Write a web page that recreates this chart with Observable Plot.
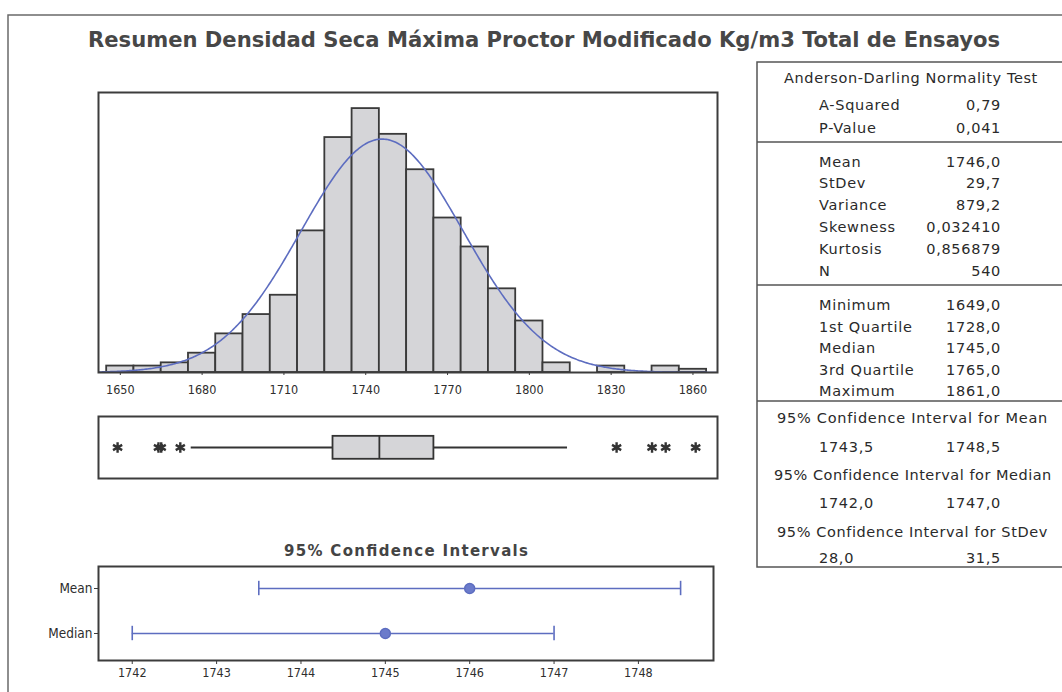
<!DOCTYPE html>
<html><head><meta charset="utf-8">
<script src="https://cdn.jsdelivr.net/npm/d3@7"></script>
<script src="https://cdn.jsdelivr.net/npm/@observablehq/plot@0.6"></script>
<style>
body{margin:0;background:#fff;}
#root{position:relative;width:1062px;height:692px;overflow:hidden;background:#fff;}
.abs{position:absolute;}
</style></head><body><div id="root"></div>
<script>
// ---- data ----
const titleText = "Resumen Densidad Seca Máxima Proctor Modificado Kg/m3 Total de Ensayos";
const binCenters = [1650,1660,1670,1680,1690,1700,1710,1720,1730,1740,1750,1760,1770,1780,1790,1800,1810,1820,1830,1840,1850,1860];
const binCounts  = [2,2,3,6,12,18,24,44,73,82,74,63,48,39,26,16,3,0,2,0,2,1];
const binWidth = 10;
const fitMean = 1746.0, fitStDev = 29.7, fitN = 540;
const histTicks = [1650,1680,1710,1740,1770,1800,1830,1860];
const boxQuartiles = [1728, 1745, 1765];
const boxWhiskers = [1676, 1814];
const boxOutliers = [1649,1664,1665,1672,1832,1845,1850,1861];
const ciLabels = ["Mean","Median"];
const ciLower = [1743.5, 1742.0];
const ciUpper = [1748.5, 1747.0];
const ciPoint = [1746.0, 1745.0];
const ciTicks = [1742,1743,1744,1745,1746,1747,1748];
const adHeader = "Anderson-Darling Normality Test";
const adLabels = ["A-Squared","P-Value"];
const adValues = ["0,79","0,041"];
const momLabels = ["Mean","StDev","Variance","Skewness","Kurtosis","N"];
const momValues = ["1746,0","29,7","879,2","0,032410","0,856879","540"];
const qLabels = ["Minimum","1st Quartile","Median","3rd Quartile","Maximum"];
const qValues = ["1649,0","1728,0","1745,0","1765,0","1861,0"];
const ciHeaders = ["95% Confidence Interval for Mean","95% Confidence Interval for Median","95% Confidence Interval for StDev"];
const ciTableLo = ["1743,5","1742,0","28,0"];
const ciTableHi = ["1748,5","1747,0","31,5"];
const ciPanelTitle = "95% Confidence Intervals";

// ---- styling ----
const FONT = '"DejaVu Sans Condensed","Liberation Sans Narrow","DejaVu Sans",sans-serif';
const INK = "#333";
const FRAME = "#3c3c3c";
const BAR_FILL = "#d5d5d8";
const BLUE = "#5d6dc0";

const root = document.getElementById("root");
function place(node, left, top) {
  node.classList.add("abs");
  node.style.left = left + "px";
  node.style.top = top + "px";
  root.appendChild(node);
}

// ---- histogram ----
const bins = binCenters.map((c, i) => ({c, count: binCounts[i]})).filter(d => d.count > 0);
const xDomain = [1642, 1869];
const curve = d3.range(xDomain[0], xDomain[1] + 0.5, 0.5).map(x => ({
  x, y: fitN * binWidth * Math.exp(-0.5 * ((x - fitMean) / fitStDev) ** 2) / (fitStDev * Math.sqrt(2 * Math.PI))
}));
const hist = Plot.plot({
  width: 640, height: 320,
  marginLeft: 10, marginRight: 11, marginTop: 10, marginBottom: 30,
  x: {domain: xDomain},
  y: {domain: [0, 87], axis: null},
  style: {fontFamily: FONT, fontSize: "12px", color: INK, background: "transparent"},
  marks: [
    Plot.rectY(bins, {x1: d => d.c - binWidth / 2, x2: d => d.c + binWidth / 2, y: "count",
      fill: BAR_FILL, stroke: "#3a3a3a", strokeWidth: 1.8}),
    Plot.line(curve, {x: "x", y: "y", stroke: BLUE, strokeWidth: 1.6, clip: true}),
    Plot.frame({stroke: FRAME, strokeWidth: 2}),
    Plot.axisX({ticks: histTicks, tickFormat: d => String(d), tickSize: 3, tickPadding: 10, label: null,
      stroke: FRAME, fontSize: 12.5, fill: "#2e2e2e"})
  ]
});
place(hist, 88, 82);

// ---- boxplot ----
const box = Plot.plot({
  width: 640, height: 82,
  marginLeft: 10, marginRight: 11, marginTop: 10, marginBottom: 10,
  x: {domain: xDomain, axis: null},
  y: {domain: [0, 1], axis: null},
  style: {fontFamily: FONT, background: "transparent"},
  marks: [
    Plot.ruleY([0.5], {x1: boxWhiskers[0], x2: boxQuartiles[0], stroke: "#333", strokeWidth: 1.8}),
    Plot.ruleY([0.5], {x1: boxQuartiles[2], x2: boxWhiskers[1], stroke: "#333", strokeWidth: 1.8}),
    Plot.rect([0], {x1: boxQuartiles[0], x2: boxQuartiles[2], y1: 0.31, y2: 0.68, fill: BAR_FILL, stroke: "#333", strokeWidth: 1.8}),
    Plot.ruleX([boxQuartiles[1]], {y1: 0.31, y2: 0.68, stroke: "#333", strokeWidth: 1.8}),
    Plot.dot(boxOutliers, {x: d => d, y: 0.5, symbol: "asterisk", r: 5, stroke: "#333", strokeWidth: 2.4}),
    Plot.frame({stroke: FRAME, strokeWidth: 2})
  ]
});
place(box, 88, 406);

// ---- confidence interval panel ----
const ciRows = ciLabels.map((label, i) => ({label, row: i, lo: ciLower[i], hi: ciUpper[i], pt: ciPoint[i]}));
const capHalf = 0.16;
const ci = Plot.plot({
  width: 700, height: 152,
  marginLeft: 68, marginRight: 17, marginTop: 26, marginBottom: 32,
  x: {domain: [1741.6, 1748.89]},
  y: {domain: [-0.489, 1.6], reverse: true},
  style: {fontFamily: FONT, fontSize: "12px", color: INK, background: "transparent"},
  marks: [
    Plot.ruleY(ciRows, {y: "row", x1: "lo", x2: "hi", stroke: BLUE, strokeWidth: 1.6}),
    Plot.ruleX(ciRows, {x: "lo", y1: d => d.row - capHalf, y2: d => d.row + capHalf, stroke: BLUE, strokeWidth: 1.6}),
    Plot.ruleX(ciRows, {x: "hi", y1: d => d.row - capHalf, y2: d => d.row + capHalf, stroke: BLUE, strokeWidth: 1.6}),
    Plot.dot(ciRows, {x: "pt", y: "row", r: 5, fill: "#6b7bcb", stroke: "#5d6dc0"}),
    Plot.frame({stroke: FRAME, strokeWidth: 2}),
    Plot.axisX({ticks: ciTicks, tickFormat: d => String(d), tickSize: 4, tickPadding: 4, label: null,
      stroke: FRAME, fontSize: 12.5, fill: "#2e2e2e"}),
    Plot.axisY({ticks: [0, 1], tickFormat: i => ciLabels[i], tickSize: 4, tickPadding: 2, label: null,
      stroke: FRAME, fontSize: 13.5, fill: "#2e2e2e"})
  ]
});
place(ci, 30, 540);

// ---- overlay: title, outer border, stats table ----
const svg = d3.create("svg").attr("width", 1062).attr("height", 692)
  .style("font-family", '"DejaVu Sans",sans-serif').style("pointer-events", "none");
svg.append("path").attr("d", "M8,692V15H1062").attr("fill", "none").attr("stroke", "#6a6a6a").attr("stroke-width", 1.5);
svg.append("text").attr("x", 88).attr("y", 47).attr("textLength", 912).attr("lengthAdjust", "spacingAndGlyphs")
  .attr("font-family", FONT).attr("font-weight", "bold").attr("font-size", 22).attr("fill", "#474747").text(titleText);
svg.append("text").attr("x", 406).attr("y", 556).attr("text-anchor", "middle").attr("textLength", 244)
  .attr("font-weight", "bold").attr("font-size", 15).attr("fill", "#444").text(ciPanelTitle);

const T = svg.append("g").attr("font-size", 14.5).attr("letter-spacing", 0.7).attr("fill", "#2a2a2a");
svg.append("rect").attr("x", 757).attr("y", 62).attr("width", 320).attr("height", 505)
  .attr("fill", "none").attr("stroke", "#555").attr("stroke-width", 1.5);
[142, 285, 401].forEach(y => svg.append("line").attr("x1", 757).attr("x2", 1062).attr("y1", y).attr("y2", y)
  .attr("stroke", "#555").attr("stroke-width", 1.5));
const LX = 819, RX = 1001;
function row(label, value, y) {
  T.append("text").attr("x", LX).attr("y", y).text(label);
  T.append("text").attr("x", RX).attr("y", y).attr("text-anchor", "end").text(value);
}
function header(text, y, x1, x2) {
  T.append("text").attr("x", x1).attr("y", y).attr("textLength", x2 - x1).text(text);
}
header(adHeader, 83, 784, 1038);
const adY = [110, 133];
adLabels.forEach((l, i) => row(l, adValues[i], adY[i]));
const momY = [166.5, 188, 210, 232, 254, 275.5];
momLabels.forEach((l, i) => row(l, momValues[i], momY[i]));
const qY = [310, 331.5, 353, 374.5, 395.5];
qLabels.forEach((l, i) => row(l, qValues[i], qY[i]));
const ciHY = [423, 480, 536.5], ciVY = [451.5, 508, 563];
const ciHX = [[777, 1048], [774, 1052], [777, 1048]];
ciHeaders.forEach((h, i) => {
  header(h, ciHY[i], ciHX[i][0], ciHX[i][1]);
  row(ciTableLo[i], ciTableHi[i], ciVY[i]);
});
place(svg.node(), 0, 0);
</script>
</body></html>
